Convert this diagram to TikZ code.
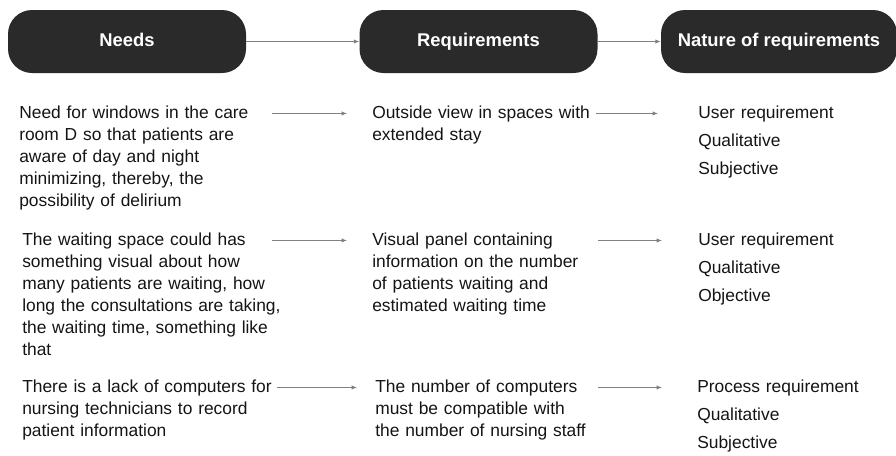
\documentclass[tikz,border=0pt]{standalone}
\usepackage{fontspec}
\setmainfont{Liberation Sans}
\usetikzlibrary{arrows.meta, positioning}
\definecolor{boxgrey}{HTML}{2A2A2A}
\definecolor{linegrey}{HTML}{808080}
\definecolor{inkgrey}{HTML}{141414}
\tikzset{
  head/.style={rounded corners=18pt, fill=boxgrey, text=white, minimum width=178.5pt, minimum height=47.25pt, inner sep=0pt, text height=10pt, text depth=3pt, font=\fontsize{13.8}{16}\selectfont\bfseries},
  pto/.style={-{Latex[length=4pt,width=3.2pt]}, linegrey, line width=0.6pt},
  txt/.style={anchor=base west, align=left, inner sep=0pt, text=inkgrey, font=\fontsize{13.05}{16.5}\selectfont}
}

\begin{document}
\begin{tikzpicture}[x=0.75pt, y=-0.75pt]
  \tikzset{need/.style={txt, text width=215pt}};
  \tikzset{req/.style={txt, text width=200pt}};
  \tikzset{kind/.style={txt, text width=150pt, font=\fontsize{13.05}{21}\selectfont}};
  \def\up{3.4pt};

  \useasboundingbox (0,0) rectangle (896,455);

  \node[head] (needs) at (127,41.5) {Needs};
  \node[head] (reqs) at (478.5,41.5) {Requirements};
  \node[head, minimum width=177pt] (nature) at (779,41.5) {Nature of requirements};
  \draw[pto] (needs) -- (reqs);
  \draw[pto] (reqs) -- (nature);

  % rows
  \node[need] (need1) at (19,118) {Need for windows in the care\\room D so that patients are\\aware of day and night\\minimizing, thereby, the\\possibility of delirium};
  \node[req] (req1) at (372,118) {Outside view in spaces with\\extended stay};
  \node[kind] (kind1) at (698,118) {User requirement\\Qualitative\\Subjective};

  \node[need] (need2) at (22,245) {The waiting space could has\\something visual about how\\many patients are waiting, how\\long the consultations are taking,\\the waiting time, something like\\that};
  \node[req] (req2) at (372,245) {Visual panel containing\\information on the number\\of patients waiting and\\estimated waiting time};
  \node[kind] (kind2) at (698,245) {User requirement\\Qualitative\\Objective};

  \node[need] (need3) at (22,392) {There is a lack of computers for\\nursing technicians to record\\patient information};
  \node[req] (req3) at (375,392) {The number of computers\\must be compatible with\\the number of nursing staff};
  \node[kind] (kind3) at (697,392) {Process requirement\\Qualitative\\Subjective};

  \draw[pto] ([xshift=189.75pt,yshift=\up]need1.base west) -- ([xshift=-18.75pt,yshift=\up]req1.base west);
  \draw[pto] ([xshift=168pt,yshift=\up]req1.base west) -- ([xshift=-30pt,yshift=\up]kind1.base west);
  \draw[pto] ([xshift=187.5pt,yshift=\up]need2.base west) -- ([xshift=-18.75pt,yshift=\up]req2.base west);
  \draw[pto] ([xshift=169.5pt,yshift=\up]req2.base west) -- ([xshift=-27pt,yshift=\up]kind2.base west);
  \draw[pto] ([xshift=191.25pt,yshift=\up]need3.base west) -- ([xshift=-13.5pt,yshift=\up]req3.base west);
  \draw[pto] ([xshift=167.25pt,yshift=\up]req3.base west) -- ([xshift=-26.25pt,yshift=\up]kind3.base west);
\end{tikzpicture}
\end{document}
